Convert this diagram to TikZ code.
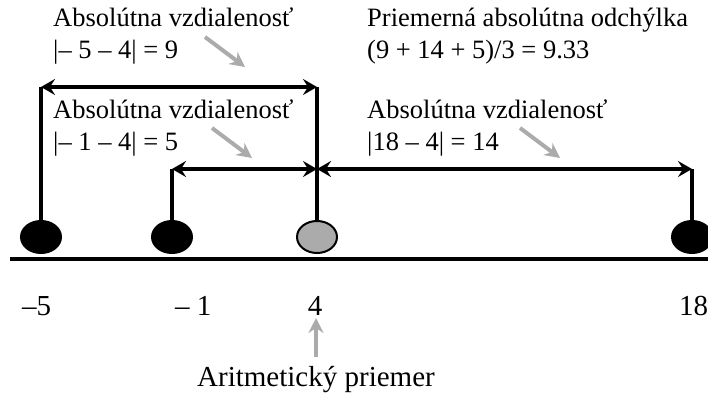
\documentclass[tikz,border=0pt]{standalone}
\usepackage{fontspec}
\setmainfont{Liberation Serif}
\usetikzlibrary{arrows.meta,shapes.geometric}

\tikzset{
  txt/.style={inner sep=0pt, anchor=base west, font=\fontsize{26.5}{32}\selectfont},
  bigtxt/.style={txt, font=\fontsize{29}{34}\selectfont},
  dot/.style={ellipse, draw=black, line width=2pt, fill=black,
              minimum width=40pt, minimum height=32pt, inner sep=0pt},
  meandot/.style={dot, fill=black!33},
  stem/.style={line width=4pt, black},
  span/.style={line width=4pt, black,
               {Stealth[length=14pt,width=16pt,inset=5pt]}-{Stealth[length=14pt,width=16pt,inset=5pt]}},
  pointer/.style={line width=4pt, black!33,
                  -{Stealth[length=15pt,width=15pt,inset=5pt]}}
}

\begin{document}
\begin{tikzpicture}[x=1pt,y=-1pt]
  \useasboundingbox (0,0) rectangle (708,396);

  % number line
  \coordinate (axl) at (10,259);
  \coordinate (axr) at (712,259);
  \draw[line width=4.5pt] (axl) -- (axr);

  % data points and the mean
  \node[dot]     (p5)  at (41,237)  {};
  \node[dot]     (p1)  at (172,237) {};
  \node[meandot] (p4)  at (317,237) {};
  \node[dot]     (p18) at (692,237) {};

  % span ends
  \coordinate (t5)  at (41,87);
  \coordinate (t4)  at (317,87);
  \coordinate (s1)  at (172,169);
  \coordinate (s4)  at (317,169);
  \coordinate (s18) at (692,169);

  % stems
  \draw[stem] (p5.north)  -- (t5);
  \draw[stem] (p4.north)  -- (t4);
  \draw[stem] (p1.north)  -- (s1);
  \draw[stem] (p18.north) -- (s18);

  % distance spans
  \draw[span] (t5) -- (t4);
  \draw[span] (s1) -- (s4);
  \draw[span] (s4) -- (s18);

  % labels
  \node[txt] (d1a) at (53,27)  {Absolútna vzdialenosť};
  \node[txt] (d1b) at (53,59)  {|– 5 – 4| = 9};
  \node[txt] (d2a) at (53,118) {Absolútna vzdialenosť};
  \node[txt] (d2b) at (53,150) {|– 1 – 4| = 5};
  \node[txt] (d3a) at (367,118) {Absolútna vzdialenosť};
  \node[txt] (d3b) at (367,150) {|18 – 4| = 14};
  \node[txt] (ma)  at (367,27) {Priemerná absolútna odchýlka};
  \node[txt] (mb)  at (367,59) {(9 + 14 + 5)/3 = 9.33};

  % pointers to the spans
  \coordinate (a1s) at (205,37);  \coordinate (a1e) at (245,67);
  \coordinate (a2s) at (212,128); \coordinate (a2e) at (252,158);
  \coordinate (a3s) at (520,128); \coordinate (a3e) at (560,158);
  \draw[pointer] (a1s) -- (a1e);
  \draw[pointer] (a2s) -- (a2e);
  \draw[pointer] (a3s) -- (a3e);

  % tick values
  \node[bigtxt] (v5)  at (22,315)  {–5};
  \node[bigtxt] (v1)  at (175,315) {– 1};
  \node[bigtxt, anchor=base] (v4) at (315,315) {4};
  \node[bigtxt] (v18) at (679,315) {18};

  % mean caption
  \node[bigtxt] (mean) at (197,386) {Aritmetický priemer};
  \coordinate (ms) at (316,357);
  \coordinate (me) at (316,318);
  \draw[pointer] (ms) -- (me);
\end{tikzpicture}
\end{document}
